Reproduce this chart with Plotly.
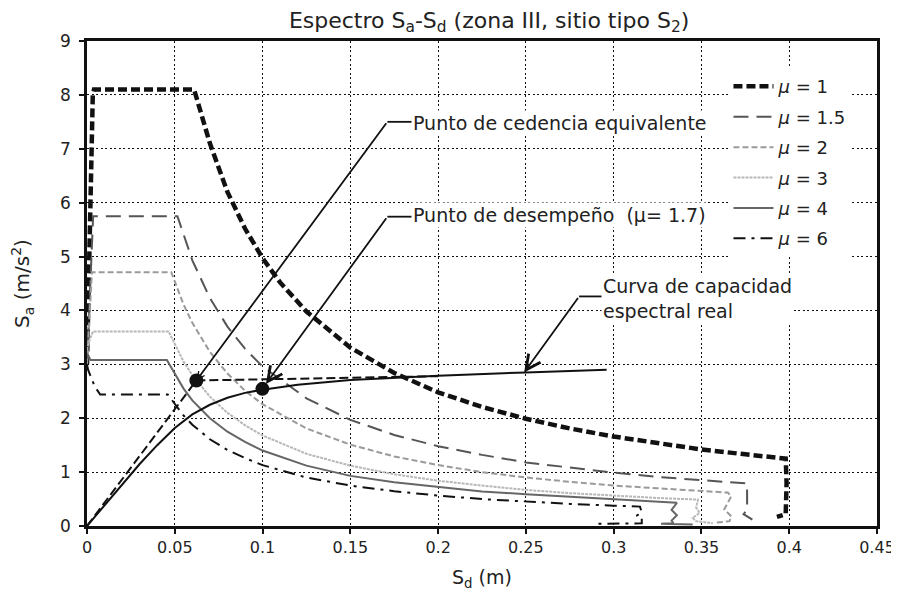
import plotly.graph_objects as go

# ---------------- data ----------------
sd_mu1 = [0.0, 0.0008, 0.0018, 0.0028, 0.0033, 0.004, 0.02, 0.04, 0.061, 0.07, 0.08, 0.09, 0.10, 0.11,
          0.125, 0.15, 0.175, 0.20, 0.225, 0.25, 0.275, 0.30, 0.325, 0.35, 0.375, 0.398, 0.3985, 0.398, 0.393]
sa_mu1 = [3.0, 4.5, 6.0, 7.4, 8.0, 8.1, 8.1, 8.1, 8.1, 7.1, 6.2, 5.52, 4.97, 4.52,
          3.98, 3.31, 2.84, 2.48, 2.21, 1.99, 1.81, 1.66, 1.53, 1.42, 1.33, 1.25, 0.80, 0.22, 0.17]

sd_mu15 = [0.0, 0.001, 0.002, 0.0028, 0.0035, 0.02, 0.04, 0.0515, 0.06, 0.07, 0.08, 0.09, 0.10, 0.125,
           0.15, 0.175, 0.20, 0.225, 0.25, 0.275, 0.30, 0.325, 0.35, 0.371, 0.376, 0.376, 0.374, 0.379]
sa_mu15 = [3.0, 3.8, 4.7, 5.5, 5.75, 5.75, 5.75, 5.75, 4.93, 4.23, 3.70, 3.29, 2.96, 2.37,
           1.97, 1.69, 1.48, 1.32, 1.18, 1.08, 0.99, 0.91, 0.85, 0.80, 0.79, 0.30, 0.22, 0.12]

sd_mu2 = [0.0, 0.001, 0.002, 0.0028, 0.02, 0.048, 0.055, 0.06, 0.07, 0.08, 0.09, 0.10, 0.125, 0.15,
          0.175, 0.20, 0.225, 0.25, 0.275, 0.30, 0.325, 0.35, 0.365, 0.367, 0.363, 0.367, 0.366, 0.358]
sa_mu2 = [3.0, 3.7, 4.4, 4.71, 4.71, 4.71, 4.11, 3.77, 3.23, 2.83, 2.51, 2.26, 1.81, 1.51,
          1.29, 1.13, 1.00, 0.90, 0.82, 0.75, 0.70, 0.65, 0.62, 0.55, 0.31, 0.18, 0.09, 0.06]

sd_mu3 = [0.0, 0.0015, 0.0034, 0.02, 0.0465, 0.055, 0.06, 0.07, 0.08, 0.09, 0.10, 0.125, 0.15, 0.175,
          0.20, 0.225, 0.25, 0.275, 0.30, 0.325, 0.348, 0.347, 0.349, 0.345, 0.347, 0.3565]
sa_mu3 = [3.27, 3.45, 3.61, 3.61, 3.61, 3.05, 2.80, 2.40, 2.10, 1.87, 1.68, 1.34, 1.12, 0.96,
          0.84, 0.75, 0.67, 0.61, 0.56, 0.52, 0.49, 0.34, 0.245, 0.15, 0.09, 0.05]

sd_mu4 = [0.0, 0.002, 0.02, 0.0455, 0.055, 0.06, 0.07, 0.08, 0.09, 0.10, 0.125, 0.15, 0.175, 0.20,
          0.225, 0.25, 0.275, 0.30, 0.325, 0.335, 0.336, 0.333, 0.336, 0.333, 0.334, 0.327, 0.345]
sa_mu4 = [3.2, 3.08, 3.08, 3.08, 2.55, 2.33, 2.00, 1.75, 1.56, 1.40, 1.12, 0.93, 0.81, 0.72,
          0.64, 0.59, 0.545, 0.50, 0.46, 0.44, 0.43, 0.30, 0.20, 0.10, 0.05, 0.04, 0.03]

sd_mu6 = [0.0, 0.0006, 0.0044, 0.0075, 0.02, 0.046, 0.055, 0.06, 0.07, 0.08, 0.09, 0.10, 0.125, 0.15,
          0.175, 0.20, 0.225, 0.25, 0.275, 0.30, 0.315, 0.316, 0.313, 0.316, 0.316, 0.29]
sa_mu6 = [3.0, 2.9, 2.59, 2.44, 2.44, 2.44, 2.05, 1.88, 1.61, 1.41, 1.26, 1.13, 0.90, 0.75,
          0.645, 0.565, 0.50, 0.45, 0.41, 0.377, 0.36, 0.25, 0.19, 0.15, 0.05, 0.04]

sd_cap = [0.0, 0.01, 0.02, 0.03, 0.04, 0.05, 0.06, 0.07, 0.08, 0.09, 0.10, 0.12, 0.15, 0.20, 0.25, 0.296]
sa_cap = [0.0, 0.39, 0.78, 1.15, 1.50, 1.82, 2.07, 2.25, 2.38, 2.47, 2.53, 2.62, 2.71, 2.79, 2.85, 2.90]

sd_bil = [0.0, 0.0623, 0.20]
sa_bil = [0.0, 2.70, 2.78]

sd_yield, sa_yield = 0.0623, 2.70
sd_perf, sa_perf = 0.0999, 2.545
sd_curve_pt, sa_curve_pt = 0.249, 2.85

x_ticks = [0, 0.05, 0.1, 0.15, 0.2, 0.25, 0.3, 0.35, 0.4, 0.45]
x_labels = ["0", "0.05", "0.1", "0.15", "0.2", "0.25", "0.3", "0.35", "0.4", "0.45"]
y_ticks = [0, 1, 2, 3, 4, 5, 6, 7, 8, 9]
y_labels = [str(v) for v in y_ticks]

legend_names = ["<i>μ</i> = 1", "<i>μ</i> = 1.5", "<i>μ</i> = 2", "<i>μ</i> = 3", "<i>μ</i> = 4", "<i>μ</i> = 6"]

FONT = "DejaVu Sans"
TXT = "#222222"

fig = go.Figure()

series = [
    (sd_mu1, sa_mu1, dict(color="#111111", width=4.5, dash="9px,4px")),
    (sd_mu15, sa_mu15, dict(color="#555555", width=2, dash="15px,8px")),
    (sd_mu2, sa_mu2, dict(color="#9a9a9a", width=2, dash="6px,3px")),
    (sd_mu3, sa_mu3, dict(color="#b8b8b8", width=2, dash="3px,1px")),
    (sd_mu4, sa_mu4, dict(color="#666666", width=2, dash="solid")),
    (sd_mu6, sa_mu6, dict(color="#111111", width=2, dash="12px,6px,3px,6px")),
]
for i, (xs, ys, ln) in enumerate(series):
    fig.add_trace(go.Scatter(x=xs, y=ys, mode="lines", line=ln, name=legend_names[i],
                             legendgroup=str(i), showlegend=True))

fig.add_trace(go.Scatter(x=sd_cap, y=sa_cap, mode="lines",
                         line=dict(color="#111111", width=2), showlegend=False))
fig.add_trace(go.Scatter(x=sd_bil, y=sa_bil, mode="lines",
                         line=dict(color="#111111", width=2, dash="9px,4px"), showlegend=False))
fig.add_trace(go.Scatter(x=[sd_yield, sd_perf], y=[sa_yield, sa_perf], mode="markers",
                         marker=dict(color="#111111", size=14), showlegend=False))

# annotations with leader lines
notes = [
    # text, text_x, text_y, elbow_x, elbow_y, point_x, point_y, arrowsize, standoff
    ("Punto de cedencia equivalente", 0.1845, 7.47, 0.1711, 7.50, sd_yield, sa_yield, 0.8, 0),
    ("Punto de desempeño  (μ= 1.7)", 0.1845, 5.78, 0.1711, 5.74, sd_perf, sa_perf, 1.6, 6),
    ("Curva de capacidad<br>espectral real", 0.2925, 4.22, 0.2803, 4.26, sd_curve_pt, sa_curve_pt, 1.6, 0),
]
for text, tx, ty, ex, ey, px, py, asz, so in notes:
    fig.add_annotation(x=px, y=py, ax=ex, ay=ey, xref="x", yref="y", axref="x", ayref="y",
                       text="", showarrow=True, arrowhead=5, arrowsize=asz, arrowwidth=1.8,
                       arrowcolor="#111111", standoff=so)
    fig.add_shape(type="line", x0=ex, y0=ey, x1=tx + 0.002, y1=ey, xref="x", yref="y",
                  line=dict(color="#111111", width=1.8))
    fig.add_annotation(x=tx, y=ty, xref="x", yref="y", text=text, showarrow=False,
                       xanchor="left", yanchor="middle", align="left", bgcolor="white",
                       font=dict(family=FONT, size=19, color=TXT))

# the page body adds an 8px offset, so the figure is sized to fit the window exactly
fig.update_layout(
    width=891, height=590,
    margin=dict(l=79, r=22, t=33, b=72, autoexpand=False),
    paper_bgcolor="white", plot_bgcolor="white",
    font=dict(family=FONT, size=16, color=TXT),
    title=dict(text="Espectro S<sub>a</sub>-S<sub>d</sub> (zona III, sitio tipo S<sub>2</sub>)",
               x=0.54, xanchor="center", y=0.98, yanchor="middle",
               font=dict(family=FONT, size=22, color=TXT)),
    showlegend=True,
    legend=dict(x=0.812, y=0.944, xanchor="left", yanchor="top", bgcolor="white",
                borderwidth=0, font=dict(family=FONT, size=18, color=TXT),
                tracegroupgap=4, itemwidth=40),
    xaxis=dict(range=[0, 0.45], tickvals=x_ticks, ticktext=x_labels, automargin=False,
               showline=True, linecolor="#111111", linewidth=2.5, mirror=True,
               ticks="outside", ticklen=5, tickcolor="#111111", tickwidth=1.5,
               showgrid=True, gridcolor="#111111", gridwidth=1.3, griddash="2px,2.5px",
               zeroline=False, tickfont=dict(family=FONT, size=16, color=TXT),
               title=dict(text="S<sub>d</sub> (m)", standoff=15,
                          font=dict(family=FONT, size=19, color=TXT))),
    yaxis=dict(range=[0, 9], tickvals=y_ticks, ticktext=y_labels, automargin=False,
               showline=True, linecolor="#111111", linewidth=2.5, mirror=True,
               ticks="outside", ticklen=5, tickcolor="#111111", tickwidth=1.5,
               showgrid=True, gridcolor="#111111", gridwidth=1.3, griddash="2px,2.5px",
               zeroline=False, tickfont=dict(family=FONT, size=17, color=TXT),
               ticklabelstandoff=5,
               title=dict(text="S<sub>a</sub> (m/s<sup>2</sup>)", standoff=29,
                          font=dict(family=FONT, size=20, color=TXT))),
)

fig.write_html("out.html")
